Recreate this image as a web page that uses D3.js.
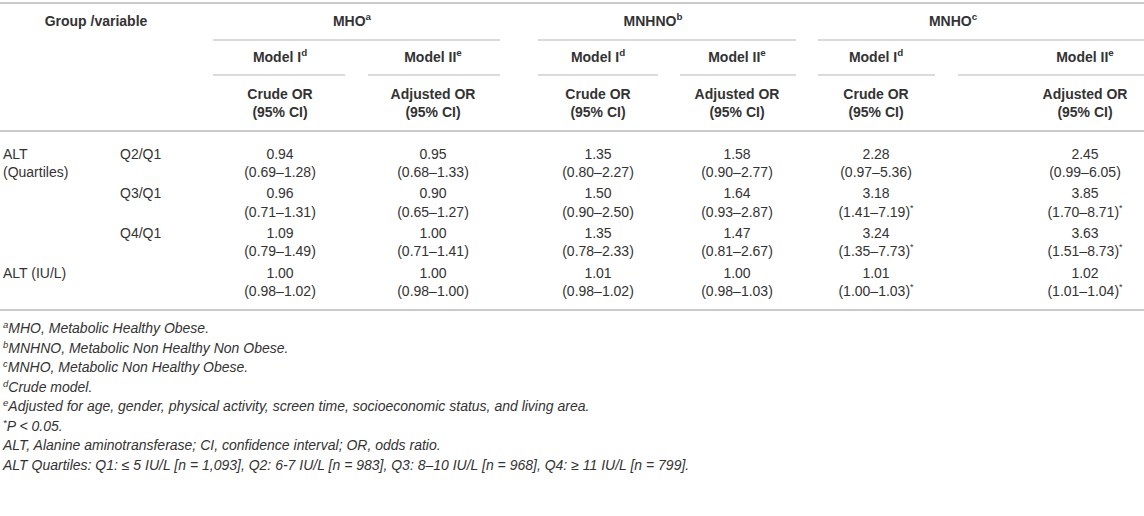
<!DOCTYPE html>
<html>
<head>
<meta charset="utf-8">
<script src="https://cdn.jsdelivr.net/npm/d3@7"></script>
<style>
  html, body { margin: 0; padding: 0; background: #fff; }
  svg { display: block; }
  text { font-family: "Liberation Sans", Arial, Helvetica, sans-serif; fill: #333; }
</style>
</head>
<body>
<svg id="chart" width="1144" height="516"></svg>
<script>
// ---- data ----
const groups = ["MHO", "MNHNO", "MNHO"];
const groupSup = ["a", "b", "c"];
const models = ["Model I", "Model II"];
const modelSup = ["d", "e"];
const orLabels = ["Crude OR", "Adjusted OR"];
const ciLabel = "(95% CI)";
const rowGroupLabels = [["ALT", "(Quartiles)"], ["ALT (IU/L)"]];
const rowLabels = ["Q2/Q1", "Q3/Q1", "Q4/Q1", ""];
// columns: MHO-I, MHO-II, MNHNO-I, MNHNO-II, MNHO-I, MNHO-II ; rows: Q2, Q3, Q4, ALT IU/L
const orValues = [
  [0.94, 0.96, 1.09, 1.00],
  [0.95, 0.90, 1.00, 1.00],
  [1.35, 1.50, 1.35, 1.01],
  [1.58, 1.64, 1.47, 1.00],
  [2.28, 3.18, 3.24, 1.01],
  [2.45, 3.85, 3.63, 1.02]
];
const ciLow = [
  [0.69, 0.71, 0.79, 0.98],
  [0.68, 0.65, 0.71, 0.98],
  [0.80, 0.90, 0.78, 0.98],
  [0.90, 0.93, 0.81, 0.98],
  [0.97, 1.41, 1.35, 1.00],
  [0.99, 1.70, 1.51, 1.01]
];
const ciHigh = [
  [1.28, 1.31, 1.49, 1.02],
  [1.33, 1.27, 1.41, 1.00],
  [2.27, 2.50, 2.33, 1.02],
  [2.77, 2.87, 2.67, 1.03],
  [5.36, 7.19, 7.73, 1.03],
  [6.05, 8.71, 8.73, 1.04]
];
const significant = [
  [false, false, false, false],
  [false, false, false, false],
  [false, false, false, false],
  [false, false, false, false],
  [false, true, true, true],
  [false, true, true, true]
];
const footnotes = [
  ["a", "MHO, Metabolic Healthy Obese."],
  ["b", "MNHNO, Metabolic Non Healthy Non Obese."],
  ["c", "MNHO, Metabolic Non Healthy Obese."],
  ["d", "Crude model."],
  ["e", "Adjusted for age, gender, physical activity, screen time, socioeconomic status, and living area."],
  ["*", "P < 0.05."],
  ["", "ALT, Alanine aminotransferase; CI, confidence interval; OR, odds ratio."],
  ["", "ALT Quartiles: Q1: ≤ 5 IU/L [n = 1,093], Q2: 6-7 IU/L [n = 983], Q3: 8–10 IU/L [n = 968], Q4: ≥ 11 IU/L [n = 799]."]
];

// ---- layout (positions kept out of the data) ----
const W = 1144;
const svg = d3.select("#chart");
const fmt = d3.format(".2f");
const lineColor = "#b8b8b8";
const fs = 14;

const colIdx = d3.range(6);
const colX = d3.scaleOrdinal().domain(colIdx).range([280, 433, 598, 737, 876, 1085]);
const colLeft = d3.scaleOrdinal().domain(colIdx).range([213, 368, 538, 680, 818, 958]);
const colRight = d3.scaleOrdinal().domain(colIdx).range([345, 500, 658, 796, 935, 1144]);
const groupX = d3.scaleOrdinal().domain(d3.range(3)).range([352, 653, 953]);
const rowY = d3.scaleLinear().domain([0, 3]).range([155, 274]);
const footY = d3.scaleLinear().domain([0, footnotes.length - 1]).range([329, 466]);

const hLine = (x1, x2, y, w) => svg.append("line")
  .attr("x1", x1).attr("x2", x2).attr("y1", y).attr("y2", y)
  .attr("stroke", lineColor).attr("stroke-width", w || 1.2);

function supText(x, y, main, sup, opts) {
  const t = svg.append("text").attr("x", x).attr("y", y)
    .attr("dominant-baseline", "middle")
    .attr("text-anchor", opts.anchor || "middle")
    .attr("font-size", opts.size || fs)
    .attr("font-weight", opts.bold ? "bold" : "normal");
  t.append("tspan").text(main);
  if (sup) t.append("tspan").text(sup).attr("font-size", (opts.size || fs) * 0.7).attr("dy", -5);
  return t;
}

// rules
hLine(0, W, 3, 1.6);
hLine(0, W, 131, 1.4);
hLine(0, W, 310, 1.4);

// header row 1
supText(96, 22, "Group /variable", null, {bold: true});
groups.forEach((g, i) => {
  supText(groupX(i), 22, g, groupSup[i], {bold: true});
  hLine(colLeft(2 * i), colRight(2 * i + 1), 40);
});

// header rows 2 & 3
colIdx.forEach(c => {
  const m = c % 2;
  supText(colX(c), 58, models[m], modelSup[m], {bold: true});
  hLine(colLeft(c), colRight(c), 75);
  supText(colX(c), 95, orLabels[m], null, {bold: true});
  supText(colX(c), 113, ciLabel, null, {bold: true});
});

// row labels
const leftText = (x, y, s) => svg.append("text").attr("x", x).attr("y", y)
  .attr("dominant-baseline", "middle").attr("font-size", fs).text(s);
leftText(3, rowY(0), rowGroupLabels[0][0]);
leftText(3, rowY(0) + 18, rowGroupLabels[0][1]);
leftText(3, rowY(3), rowGroupLabels[1][0]);
rowLabels.forEach((r, i) => { if (r) leftText(120, rowY(i), r); });

// cells
colIdx.forEach(c => {
  orValues[c].forEach((v, r) => {
    svg.append("text").attr("x", colX(c)).attr("y", rowY(r))
      .attr("text-anchor", "middle").attr("dominant-baseline", "middle")
      .attr("font-size", fs).text(fmt(v));
    const ci = "(" + fmt(ciLow[c][r]) + "–" + fmt(ciHigh[c][r]) + ")";
    const t = svg.append("text").attr("x", colX(c)).attr("y", rowY(r) + 18)
      .attr("text-anchor", "middle").attr("dominant-baseline", "middle")
      .attr("font-size", fs);
    t.append("tspan").text(ci);
    if (significant[c][r]) {
      t.append("tspan").text("*").attr("font-size", 9).attr("dy", -4);
    }
  });
});

// footnotes
footnotes.forEach((f, i) => {
  const t = svg.append("text").attr("x", 3).attr("y", footY(i))
    .attr("dominant-baseline", "middle").attr("font-size", 14)
    .attr("font-style", "italic");
  if (f[0]) {
    t.append("tspan").text(f[0]).attr("font-size", 9.5).attr("dy", -4);
    t.append("tspan").text(f[1]).attr("dy", 4);
  } else {
    t.append("tspan").text(f[1]);
  }
});
</script>
</body>
</html>
